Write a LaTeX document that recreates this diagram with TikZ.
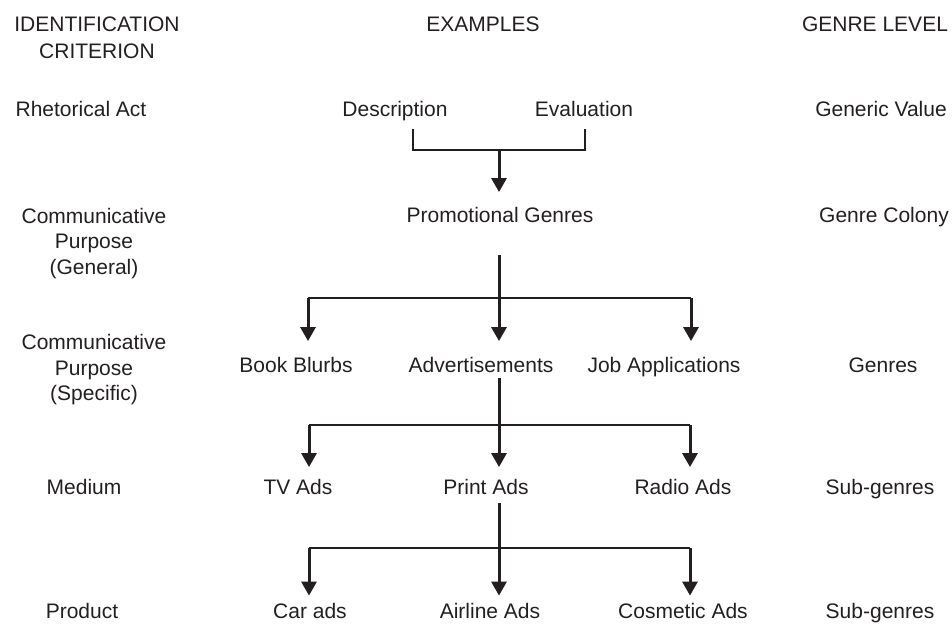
\documentclass[tikz,border=0pt]{standalone}
\usepackage{fontspec}
\setmainfont{Liberation Sans}
\usetikzlibrary{arrows.meta}
\definecolor{ink}{HTML}{231F20}
\begin{document}
\begin{tikzpicture}[x=1pt,y=-1pt,
  txt/.style={inner sep=0pt, anchor=base, text=ink, font=\fontsize{21pt}{25.5pt}\selectfont},
  multi/.style={txt, align=center},
  thinline/.style={draw=ink, line width=1.4pt},
  arr/.style={draw=ink, line width=3pt, -{Triangle[width=15pt,length=14pt]}},
  stem/.style={draw=ink, line width=3pt}]
\useasboundingbox (0,0) rectangle (952,628);

% headers (multi-line nodes are anchored at the baseline of their last line)
\node[multi, font=\fontsize{21pt}{26.6pt}\selectfont] (hid) at (97,58.3) {IDENTIFICATION\\CRITERION};
\node[txt] (hex) at (483,31.7) {EXAMPLES};
\node[txt] (hgl) at (875,31.7) {GENRE LEVEL};

% row 1
\node[txt] (rhet) at (81,117) {Rhetorical Act};
\node[txt] (desc) at (395,117) {Description};
\node[txt] (eval) at (584,117) {Evaluation};
\node[txt] (gval) at (881,117) {Generic Value};

% row 2
\node[multi] (cpg) at (94,274) {Communicative\\Purpose\\(General)};
\node[txt] (promo) at (500,223) {Promotional Genres};
\node[txt] (colony) at (884,223) {Genre Colony};

% row 3
\node[multi] (cps) at (94,400.5) {Communicative\\Purpose\\(Specific)};
\node[txt] (book) at (296,372) {Book Blurbs};
\node[txt] (adv) at (481,372) {Advertisements};
\node[txt] (job) at (664,372) {Job Applications};
\node[txt] (genres) at (883,372) {Genres};

% row 4
\node[txt] (medium) at (84,494.5) {Medium};
\node[txt] (tv) at (298,494.5) {TV Ads};
\node[txt] (print) at (486,494.5) {Print Ads};
\node[txt] (radio) at (683,494.5) {Radio Ads};
\node[txt] (sub1) at (880,494.5) {Sub-genres};

% row 5
\node[txt] (product) at (82,618) {Product};
\node[txt] (car) at (310,618) {Car ads};
\node[txt] (air) at (490,618) {Airline Ads};
\node[txt] (cos) at (683,618) {Cosmetic Ads};
\node[txt] (sub2) at (880,618) {Sub-genres};

% bracket between Description and Evaluation
\coordinate (b1) at (413,129);
\coordinate (b2) at (413,150);
\coordinate (b3) at (585,150);
\coordinate (b4) at (585,129);
\coordinate (bm) at (499,150);
\draw[thinline] (b1) -- (b2) -- (b3) -- (b4);
\draw[arr, shorten >=15.5pt] (bm) -- (bm |- promo.north);

% promotional genres -> genres
\coordinate (s2) at (499,255);
\coordinate (j2) at (499,298);
\coordinate (l2) at (308,298);
\coordinate (r2) at (691,298);
\draw[stem] (s2) -- (j2);
\draw[thinline] (l2) -- (r2);
\draw[arr, shorten >=15.5pt] (l2) -- (l2 |- book.north);
\draw[arr, shorten >=15.5pt] (j2) -- (j2 |- adv.north);
\draw[arr, shorten >=15.5pt] (r2) -- (r2 |- job.north);

% advertisements -> media
\coordinate (s3) at (499,378);
\coordinate (j3) at (499,425);
\coordinate (l3) at (309,425);
\coordinate (r3) at (690,425);
\draw[stem] (s3) -- (j3);
\draw[thinline] (l3) -- (r3);
\draw[arr, shorten >=12pt] (l3) -- (l3 |- tv.north);
\draw[arr, shorten >=12pt] (j3) -- (j3 |- print.north);
\draw[arr, shorten >=12pt] (r3) -- (r3 |- radio.north);

% print ads -> products
\coordinate (s4) at (499,503);
\coordinate (j4) at (499,548);
\coordinate (l4) at (309,548);
\coordinate (r4) at (690,548);
\draw[stem] (s4) -- (j4);
\draw[thinline] (l4) -- (r4);
\draw[arr, shorten >=7pt] (l4) -- (l4 |- car.north);
\draw[arr, shorten >=7pt] (j4) -- (j4 |- air.north);
\draw[arr, shorten >=7pt] (r4) -- (r4 |- cos.north);
\end{tikzpicture}
\end{document}
